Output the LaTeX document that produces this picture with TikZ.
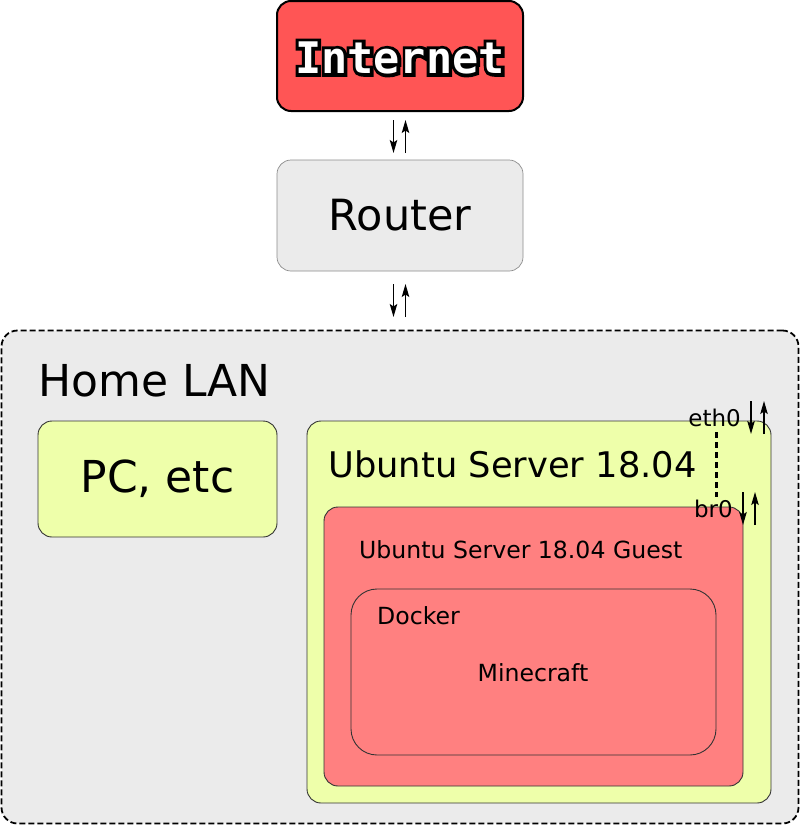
\documentclass[tikz,border=0pt]{standalone}
\usepackage{fontspec}
\setmainfont{DejaVu Sans}
\newfontfamily\monobold{DejaVu Sans Mono Bold}
\newfontfamily\monoboldstroke{DejaVu Sans Mono Bold}[FakeBold=15]
\usetikzlibrary{arrows.meta}
\definecolor{inetred}{HTML}{FF5555}
\definecolor{lgray}{HTML}{EBEBEB}
\definecolor{lyellow}{HTML}{EEFFAA}
\definecolor{lred}{HTML}{FF8080}
\definecolor{edgegray}{HTML}{333333}
\tikzset{
  box/.style={rounded corners=14pt, draw=edgegray, line width=0.9pt, inner sep=0pt},
  arr/.style={line width=1.3pt, arrows={-Stealth[length=13pt,width=7.5pt,inset=2.5pt]}},
  lbl/.style={inner sep=0pt, text=black},
}
\begin{document}
\begin{tikzpicture}[x=1pt,y=-1pt]
\useasboundingbox (0,0) rectangle (800,825);
% Home LAN
\node[box, draw=black, dash pattern=on 6pt off 3pt, line width=1.8pt, fill=lgray, rounded corners=16pt,
      minimum width=797pt, minimum height=493pt] (lan) at (400,577) {};
\node[lbl, anchor=base west, font=\fontsize{44}{44}\selectfont] (lantxt) at (38,396) {Home LAN};
% Internet
\node[box, draw=black, line width=2pt, fill=inetred, minimum width=246pt, minimum height=110pt] (inet) at (400,56) {};
\node[lbl, text=black, font=\monoboldstroke\fontsize{43.5}{43.5}\selectfont] (inetback) at (400,58) {Internet};
\node[lbl, text=white, font=\monobold\fontsize{43.5}{43.5}\selectfont] (inettxt) at (inetback.center) {Internet};
% Router
\node[box, draw=gray!90, line width=0.7pt, fill=lgray, minimum width=246pt, minimum height=111pt,
      font=\fontsize{43}{43}\selectfont] (router) at (400,215.5) {Router};
% PC
\node[box, fill=lyellow, minimum width=239pt, minimum height=116pt,
      font=\fontsize{44}{44}\selectfont] (pc) at (157.5,479) {PC, etc};
% Ubuntu server
\node[box, fill=lyellow, minimum width=464pt, minimum height=382pt] (ubu) at (539,612) {};
\node[lbl, anchor=base west, font=\fontsize{35.3}{35.3}\selectfont] (ubutxt) at (328,477) {Ubuntu Server 18.04};
% Guest
\node[box, fill=lred, minimum width=419pt, minimum height=279pt] (guest) at (533.5,646.5) {};
\node[lbl, anchor=base west, font=\fontsize{23.6}{23.6}\selectfont] (guesttxt) at (359,558) {Ubuntu Server 18.04 Guest};
% Docker
\node[box, fill=lred, rounded corners=26pt, minimum width=365pt, minimum height=166pt] (docker) at (533.5,672) {};
\node[lbl, anchor=base west, font=\fontsize{23.6}{23.6}\selectfont] (dockertxt) at (377,624) {Docker};
\node[lbl, font=\fontsize{23.6}{23.6}\selectfont] (mc) at (533,673) {Minecraft};
% interface labels
\node[lbl, anchor=base east, font=\fontsize{23}{23}\selectfont] (eth) at (741,426) {eth0};
\node[lbl, anchor=base east, font=\fontsize{23}{23}\selectfont] (br) at (733,517) {br0};
% arrows internet-router
\coordinate (a1t) at (393.5,120); \coordinate (a1b) at (393.5,153);
\coordinate (a2t) at (405.5,120); \coordinate (a2b) at (405.5,153);
\draw[arr] (a1t) -- (a1b);
\draw[arr] (a2b) -- (a2t);
% arrows router-lan
\coordinate (b1t) at (393.5,284); \coordinate (b1b) at (393.5,317);
\coordinate (b2t) at (405.5,284); \coordinate (b2b) at (405.5,317);
\draw[arr] (b1t) -- (b1b);
\draw[arr] (b2b) -- (b2t);
% eth0 arrows
\coordinate (e1t) at (751,401); \coordinate (e1b) at (751,434);
\coordinate (e2t) at (764,401); \coordinate (e2b) at (764,434);
\draw[arr] (e1t) -- (e1b);
\draw[arr] (e2b) -- (e2t);
% br0 arrows
\coordinate (r1t) at (743,492); \coordinate (r1b) at (743,525);
\coordinate (r2t) at (755,492); \coordinate (r2b) at (755,525);
\draw[arr] (r1t) -- (r1b);
\draw[arr] (r2b) -- (r2t);
% eth0 - br0 link
\coordinate (lt) at (716,432); \coordinate (lb) at (716,497);
\draw[line width=3pt, dash pattern=on 6pt off 4pt] (lt) -- (lb);
\end{tikzpicture}
\end{document}
